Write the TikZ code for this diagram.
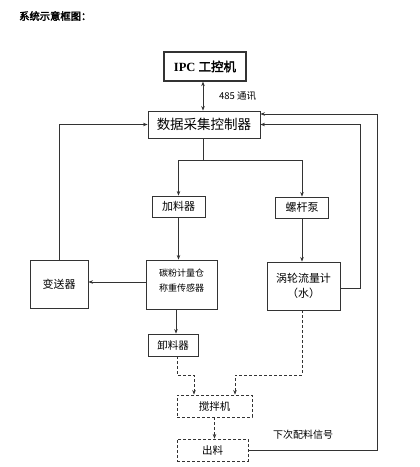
\documentclass[tikz,border=0pt]{standalone}
\usepackage{fontspec}
\setmainfont{Liberation Serif}
\newfontfamily\cjk[AutoFakeBold=2.5]{Noto Sans CJK SC}
\usetikzlibrary{arrows.meta}
\begin{document}
\begin{tikzpicture}[x=1pt,y=1pt,
  box/.style={draw=black!80, line width=0.9pt, rectangle, inner sep=0pt, font=\cjk},
  dbox/.style={box, dashed, dash pattern=on 3pt off 2pt},
  conn/.style={draw=black!80, line width=0.7pt},
  arr/.style={conn, -{Stealth[length=4.5pt,width=3.5pt]}},
  darr/.style={arr, dash pattern=on 3pt off 2pt},
  lbl/.style={font=\cjk, inner sep=0pt}]
\useasboundingbox (0,0) rectangle (420,-467);
\fill[white] (0,0) rectangle (420,-467);
% title
\node[lbl, font=\cjk\fontsize{10.3}{12}\selectfont, anchor=west] (title) at (19,-16) {\textbf{系统示意框图：}};
% nodes
\node[box, line width=1.3pt, minimum width=82, minimum height=29, font=\bfseries\fontsize{12.5}{14}\selectfont] (ipc) at (205,-66.5) {IPC {\cjk\textbf{工控机}}};
\node[box, minimum width=112, minimum height=27, font=\cjk\fontsize{13.5}{15}\selectfont] (ctrl) at (204,-124.5) {数据采集控制器};
\node[box, minimum width=53, minimum height=21, font=\cjk\fontsize{11}{13}\selectfont] (jia) at (178.5,-206.5) {加料器};
\node[box, minimum width=53, minimum height=21, font=\cjk\fontsize{11}{13}\selectfont] (luo) at (302,-207.5) {螺杆泵};
\node[box, minimum width=71, minimum height=49, align=center, text depth=8pt, font=\cjk\fontsize{9}{15}\selectfont] (tan) at (181.5,-284.5) {碳粉计量仓\\称重传感器};
\node[box, minimum width=58, minimum height=48, font=\cjk\fontsize{11}{13}\selectfont] (bian) at (59,-284) {变送器};
\node[box, minimum width=73, minimum height=48, align=center, font=\cjk\fontsize{11}{15}\selectfont] (wo) at (303.5,-286) {涡轮流量计\\（水）};
\node[box, minimum width=50, minimum height=22, font=\cjk\fontsize{10.5}{12}\selectfont] (xie) at (173,-345) {卸料器};
\node[dbox, minimum width=75, minimum height=22, font=\cjk\fontsize{10.5}{12}\selectfont] (jiao) at (214.5,-406) {搅拌机};
\node[dbox, minimum width=71, minimum height=22, font=\cjk\fontsize{10.5}{12}\selectfont] (chu) at (212.5,-450) {出料};
% labels
\node[lbl, font=\cjk\fontsize{9.5}{11}\selectfont, anchor=west] (l485) at (219,-96) {485 通讯};
\node[lbl, font=\cjk\fontsize{10}{12}\selectfont, anchor=west] (lnext) at (273,-435) {下次配料信号};
% coordinates
\coordinate (sp) at (203,-160);
\coordinate (wr) at (360,-288);
\coordinate (outer) at (377,-450);
\coordinate (x1) at (177,-375);
\coordinate (x2) at (302,-375);
% connectors
\draw[conn, {Stealth[length=4.5pt,width=3.5pt]}-{Stealth[length=4.5pt,width=3.5pt]}] (ipc.south -| sp) -- (ctrl.north -| sp);
\draw[arr] (bian.north) |- (ctrl.west);
\draw[conn] (ctrl.south -| sp) -- (sp);
\draw[arr] (sp) -| (jia.north);
\draw[arr] (sp) -| (luo.north);
\draw[arr] (jia.south) -- (jia.south |- tan.north);
\draw[arr] (luo.south) -- (luo.south |- wo.north);
\draw[arr] (tan.west |- 0,-282) -- (bian.east |- 0,-282);
\draw[arr] (tan.south -| 176,0) -- (xie.north -| 176,0);
\draw[arr] (wo.east |- wr) -- (wr) |- (ctrl.east);
\draw[arr] (chu.east) -- (outer) |- ([yshift=10.5pt]ctrl.east);
\draw[darr] (xie.south -| x1) -- (x1) -| ([xshift=-20.5pt]jiao.north);
\draw[darr] (wo.south -| x2) -- (x2) -| ([xshift=20.5pt]jiao.north);
\draw[darr] (jiao.south) -- (chu.north -| jiao.south);
\end{tikzpicture}
\end{document}
